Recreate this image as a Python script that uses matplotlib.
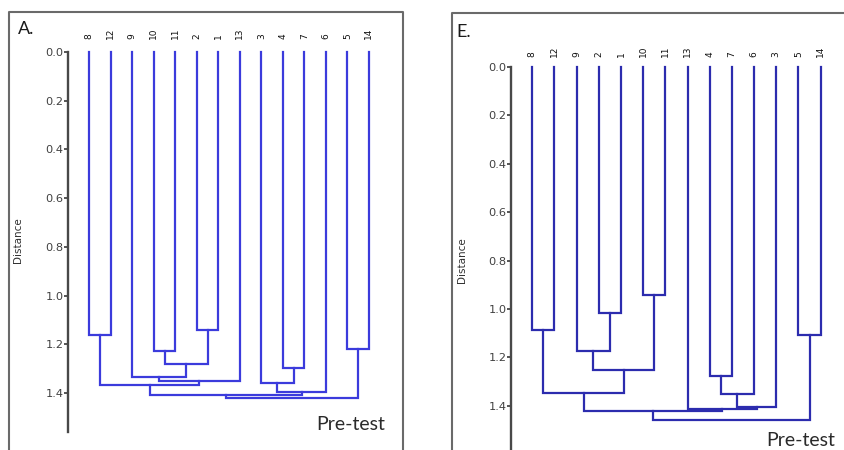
import matplotlib
matplotlib.use("Agg")
import matplotlib.pyplot as plt
from matplotlib.lines import Line2D

# ---------------- data ----------------
a_labels = ['8', '12', '9', '10', '11', '2', '1', '13', '3', '4', '7', '6', '5', '14']
# merges: (left cluster, right cluster, distance); leaves are 0..13, new clusters 14, 15, ...
a_left = [0, 3, 5, 15, 2, 18, 14, 9, 8, 22, 12, 20, 25]
a_right = [1, 4, 6, 16, 17, 7, 19, 10, 21, 11, 13, 23, 24]
a_dist = [1.162, 1.229, 1.143, 1.279, 1.333, 1.351, 1.369, 1.297, 1.357, 1.396, 1.219, 1.407, 1.421]

e_labels = ['8', '12', '9', '2', '1', '10', '11', '13', '4', '7', '6', '3', '5', '14']
e_left = [0, 3, 2, 5, 16, 14, 8, 20, 21, 7, 19, 12, 24]
e_right = [1, 4, 15, 6, 17, 18, 9, 10, 11, 22, 23, 13, 25]
e_dist = [1.087, 1.018, 1.174, 0.941, 1.253, 1.349, 1.277, 1.353, 1.407, 1.412, 1.422, 1.108, 1.460]

y_ticks = [0.0, 0.2, 0.4, 0.6, 0.8, 1.0, 1.2, 1.4]

W, H = 845, 450
fig = plt.figure(figsize=(W / 100, H / 100), dpi=100)
fig.patch.set_facecolor('white')


def fx(x):
    return x / W


def fy(y):
    return 1 - y / H


def draw_dendro(ax, labels, lefts, rights, dists, color, label_off):
    n = len(labels)
    xs = {i: float(i) for i in range(n)}
    hs = {i: 0.0 for i in range(n)}
    for k, (l, r, d) in enumerate(zip(lefts, rights, dists)):
        cid = n + k
        xl, xr = xs[l], xs[r]
        ax.plot([xl, xl, xr, xr], [hs[l], d, d, hs[r]], color=color, lw=1.6,
                solid_joinstyle='miter', clip_on=False)
        xs[cid] = (xl + xr) / 2
        hs[cid] = d
    for i, lab in enumerate(labels):
        ax.annotate(lab, xy=(i, 0), xytext=(0, label_off), textcoords='offset pixels',
                    rotation=90, ha='center', va='bottom', fontsize=6.5,
                    color='#111111', family='DejaVu Sans')


def style_axis(ax, ymax):
    ax.set_ylim(ymax, 0)
    for s in ['top', 'right', 'bottom']:
        ax.spines[s].set_visible(False)
    ax.spines['left'].set_color('#484848')
    ax.spines['left'].set_linewidth(1.7)
    ax.set_xticks([])
    ax.set_yticks(y_ticks)
    ax.set_yticklabels([f"{t:.1f}" for t in y_ticks])
    ax.tick_params(axis='y', direction='out', length=2.6, width=1.3, color='#484848',
                   labelsize=8.2, labelcolor='#404040', pad=0.6)
    ax.patch.set_alpha(0)


# ---------- Panel A ----------
a_spine_x, a_top, a_bot = 68, 52, 432
a_leaf0, a_step = 89.3, 21.5
a_right_px = 395
axA = fig.add_axes([fx(a_spine_x), fy(a_bot), fx(a_right_px - a_spine_x), (a_bot - a_top) / H])
axA.set_xlim(-(a_leaf0 - a_spine_x) / a_step, (a_right_px - a_leaf0) / a_step)
style_axis(axA, (a_bot - a_top) / 243.6)
draw_dendro(axA, a_labels, a_left, a_right, a_dist, '#3b3bdc', 13)

# ---------- Panel E ----------
e_spine_x, e_top, e_bot = 511, 67, 450
e_leaf0, e_step = 532.3, 22.18
e_right_px = 840
axE = fig.add_axes([fx(e_spine_x), fy(e_bot), fx(e_right_px - e_spine_x), (e_bot - e_top) / H])
axE.set_xlim(-(e_leaf0 - e_spine_x) / e_step, (e_right_px - e_leaf0) / e_step)
style_axis(axE, (e_bot - e_top) / 242.0)
draw_dendro(axE, e_labels, e_left, e_right, e_dist, '#2c2cae', 10)

# ---------- frames ----------
frame_col = '#6a6a6a'
for xs_, ys_ in [([9, 9, 403, 403], [452, 12, 12, 452]),
                 ([452, 452, 848], [452, 13, 13])]:
    fig.add_artist(Line2D([fx(v) for v in xs_], [fy(v) for v in ys_],
                          color=frame_col, lw=1.5, transform=fig.transFigure))

# ---------- texts ----------
fig.text(fx(18), fy(29), 'A.', fontsize=13, family='Lato', color='#1a1a1a', va='center', ha='left')
fig.text(fx(456), fy(32), 'E.', fontsize=13, family='Lato', color='#1a1a1a', va='center', ha='left')
fig.text(fx(18), fy(240), 'Distance', rotation=90, fontsize=7.5, family='DejaVu Sans',
         color='#303030', ha='center', va='center')
fig.text(fx(462), fy(260), 'Distance', rotation=90, fontsize=7.5, family='DejaVu Sans',
         color='#303030', ha='center', va='center')
fig.text(fx(351), fy(424), 'Pre-test', fontsize=14, family='Lato', color='#2a2a2a',
         ha='center', va='center')
fig.text(fx(801), fy(440), 'Pre-test', fontsize=14, family='Lato', color='#2a2a2a',
         ha='center', va='center')

fig.savefig('out.png', dpi=100, facecolor='white')
